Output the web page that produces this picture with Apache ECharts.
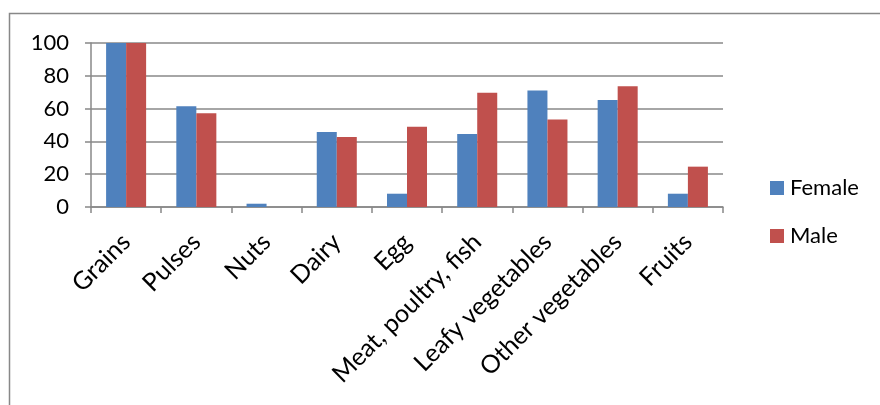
<!DOCTYPE html>
<html><head><meta charset="utf-8">
<script src="https://cdn.jsdelivr.net/npm/echarts@6/dist/echarts.min.js"></script>
<style>html,body{margin:0;padding:0;background:#fff}#c{width:880px;height:405px}</style>
</head><body><div id="c"></div>
<script>
const categories = ["Grains","Pulses","Nuts","Dairy","Egg","Meat, poultry, fish","Leafy vegetables","Other vegetables","Fruits"];
const female = [100, 61.4, 2.0, 45.7, 8.1, 44.5, 71.1, 65.2, 8.1];
const male = [100, 57.1, 0, 42.7, 49.0, 69.7, 53.3, 73.6, 24.6];
const yTicks = {min: 0, max: 100, interval: 20};
const font = "Lato, 'Open Sans', sans-serif";
const chart = echarts.init(document.getElementById('c'), null, {renderer: 'canvas'});
chart.setOption({
  animation: false,
  backgroundColor: '#fff',
  graphic: [{type: 'rect', shape: {x: 9.5, y: 13.5, width: 900, height: 500}, style: {fill: 'none', stroke: '#888', lineWidth: 1.5}, silent: true}],
  grid: {left: 91, right: 157, top: 43, bottom: 198, containLabel: false},
  legend: {
    orient: 'vertical', left: 765, top: 172, itemWidth: 14, itemHeight: 14, itemGap: 26,
    icon: 'rect', textStyle: {fontFamily: font, fontSize: 22, color: '#000', padding: [0,0,0,1]},
    data: ['Female', 'Male']
  },
  xAxis: {
    type: 'category', data: categories,
    axisLine: {lineStyle: {color: '#888', width: 1.5}},
    axisTick: {show: true, alignWithLabel: false, length: 6, lineStyle: {color: '#888', width: 1.5}},
    axisLabel: {rotate: 45, interval: 0, margin: 31, fontFamily: font, fontSize: 25, color: '#000'}
  },
  yAxis: {
    type: 'value', min: yTicks.min, max: yTicks.max, interval: yTicks.interval,
    axisLine: {show: true, lineStyle: {color: '#888', width: 1.5}},
    axisTick: {show: true, length: 6, lineStyle: {color: '#888', width: 1.5}},
    splitLine: {lineStyle: {color: '#888', width: 1.5}},
    axisLabel: {margin: 22, fontFamily: font, fontSize: 22, color: '#000'}
  },
  series: [
    {name: 'Female', type: 'bar', data: female, barGap: '0%', barCategoryGap: '43%', itemStyle: {color: '#4F81BD'}},
    {name: 'Male', type: 'bar', data: male, itemStyle: {color: '#C0504D'}}
  ]
});
</script></body></html>
